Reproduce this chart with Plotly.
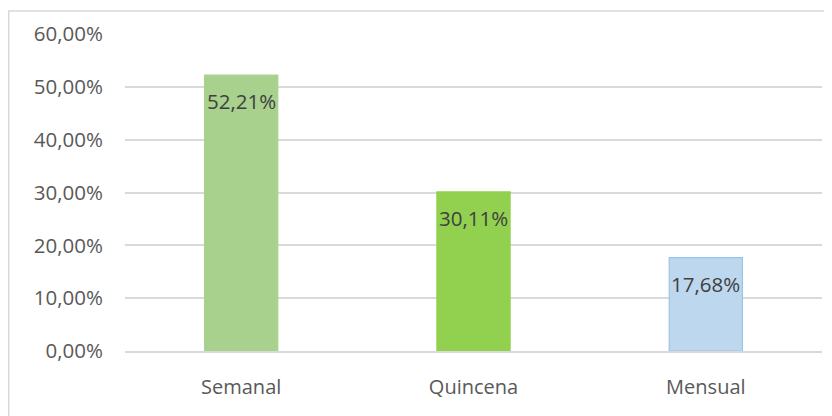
import plotly.graph_objects as go

categories = ["Semanal", "Quincena", "Mensual"]
values = [52.21, 30.11, 17.68]
labels = ["52,21%", "30,11%", "17,68%"]
colors = ["#A9D18E", "#92D050", "#BDD7EE"]
line_colors = ["#A9D18E", "#92D050", "#9DC3E6"]
tick_vals = [0, 10, 20, 30, 40, 50, 60]
tick_text = ["0,00%", "10,00%", "20,00%", "30,00%", "40,00%", "50,00%", "60,00%"]

# page body has an 8px margin
W, H = 824, 408
ml, mr, mt, mb = 117, 10, 26, 65
pw = W - ml - mr
ph = H - mt - mb

fig = go.Figure()
fig.add_trace(go.Bar(
    x=categories, y=values,
    marker=dict(color=colors, line=dict(color=line_colors, width=1.2)),
    width=0.315, hoverinfo="skip",
))
for c, v, t in zip(categories, values, labels):
    fig.add_annotation(x=c, y=v, text=t, showarrow=False, yanchor="middle", yshift=-26,
                       font=dict(family="Open Sans", size=20.5, color="#404040"))

fig.add_shape(type="rect", xref="paper", yref="paper",
              x0=(0.75 - ml) / pw, x1=(W + 5 - ml) / pw,
              y0=(-5 - mb) / ph, y1=(H - 3 - mb) / ph,
              line=dict(color="#D9D9D9", width=1.5), layer="below")

fig.update_layout(
    width=W, height=H, margin=dict(l=ml, r=mr, t=mt, b=mb),
    paper_bgcolor="white", plot_bgcolor="white", showlegend=False,
    font=dict(family="Open Sans", color="#595959", size=20),
    xaxis=dict(showgrid=False, showline=True, linecolor="#D9D9D9", linewidth=1.5,
               ticks="", ticklabelstandoff=17, tickfont=dict(size=20)),
    yaxis=dict(range=[0, 60], tickvals=tick_vals, ticktext=tick_text, showgrid=True,
               gridcolor="#D9D9D9", gridwidth=1.5, zeroline=False, showline=False,
               ticks="", ticklabelstandoff=21, tickfont=dict(size=20.5)),
)
fig.write_html("out.html")
